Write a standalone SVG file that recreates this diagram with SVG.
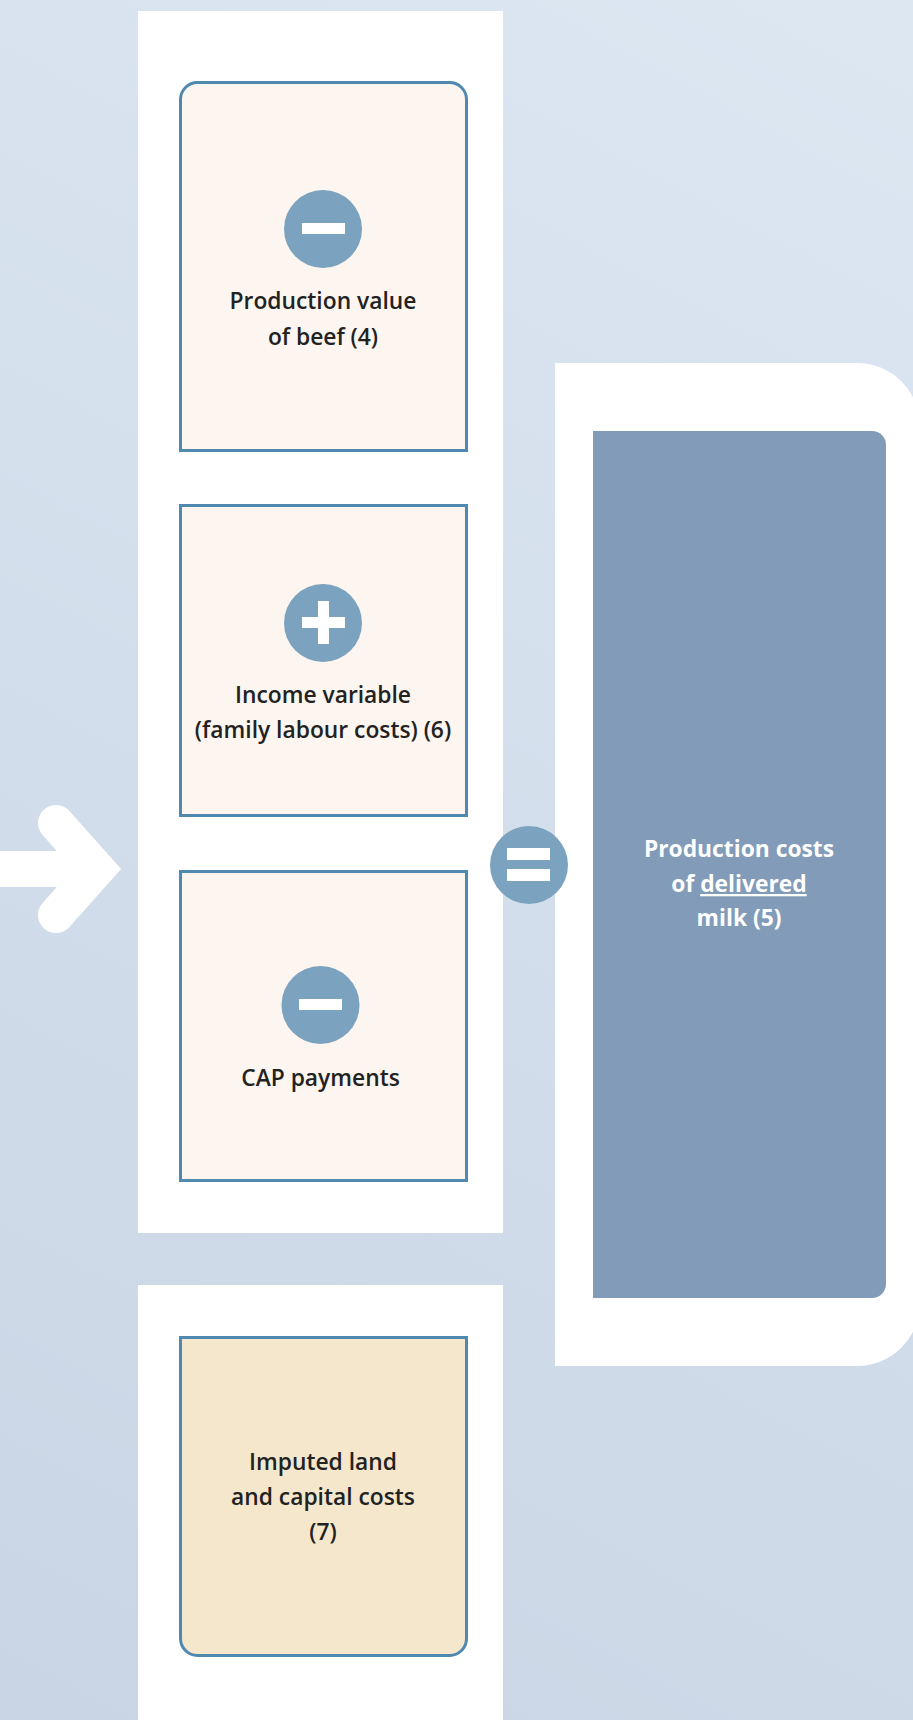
<svg xmlns="http://www.w3.org/2000/svg" width="913" height="1720" viewBox="0 0 913 1720">
  <defs>
    <linearGradient id="bg" x1="913" y1="0" x2="0" y2="1720" gradientUnits="userSpaceOnUse">
      <stop offset="0" stop-color="#dce7f2"/>
      <stop offset="1" stop-color="#c9d5e4"/>
    </linearGradient>
  </defs>
  <style>
    .box { fill: #fdf5ef; stroke: #5089b0; stroke-width: 3; }
    .box4 { fill: #f5e7cc; stroke: #5089b0; stroke-width: 3; }
    .sign { fill: #7ba2bf; }
    .bar { fill: #ffffff; }
    .lbl { font-family: "Open Sans", "Liberation Sans", sans-serif; font-weight: 600; font-size: 22.8px; fill: #222222; text-anchor: middle; }
    .lblw { font-family: "Open Sans", "Liberation Sans", sans-serif; font-weight: 700; font-size: 22.8px; fill: #ffffff; text-anchor: middle; }
  </style>

  <rect x="0" y="0" width="913" height="1720" fill="url(#bg)"/>

  <!-- white backing panels -->
  <rect x="138" y="11" width="365" height="1222" fill="#ffffff"/>
  <rect x="138" y="1285" width="365" height="435" fill="#ffffff"/>
  <path d="M555,363 H857 A63,63 0 0 1 920,426 V1303 A63,63 0 0 1 857,1366 H555 Z" fill="#ffffff"/>

  <g id="connectors">
    <rect x="0" y="851" width="95" height="36" fill="#ffffff"/>
    <path d="M56,823 L97,869 L56,915" fill="none" stroke="#ffffff" stroke-width="36" stroke-linecap="round" stroke-linejoin="miter" stroke-miterlimit="10"/>
  </g>

  <g id="node-beef">
    <path class="box" d="M180.5,450.5 V99.5 A17,17 0 0 1 197.5,82.5 H449.5 A17,17 0 0 1 466.5,99.5 V450.5 Z"/>
    <circle class="sign" cx="323" cy="229" r="39"/>
    <rect class="bar" x="302" y="223" width="43" height="11"/>
    <text class="lbl" x="323" y="309">Production value</text>
    <text class="lbl" x="323" y="345">of beef (4)</text>
  </g>

  <g id="node-income">
    <rect class="box" x="180.5" y="505.5" width="286" height="310"/>
    <circle class="sign" cx="323" cy="623" r="39"/>
    <rect class="bar" x="302" y="617" width="43" height="11"/>
    <rect class="bar" x="318" y="601" width="11" height="43"/>
    <text class="lbl" x="323" y="703">Income variable</text>
    <text class="lbl" x="323" y="738">(family labour costs) (6)</text>
  </g>

  <g id="node-cap">
    <rect class="box" x="180.5" y="871.5" width="286" height="309"/>
    <circle class="sign" cx="320.5" cy="1005" r="39"/>
    <rect class="bar" x="299" y="999" width="43" height="11"/>
    <text class="lbl" x="320.5" y="1086">CAP payments</text>
  </g>

  <g id="node-equals">
    <circle class="sign" cx="529" cy="865" r="39"/>
    <rect class="bar" x="507" y="848" width="43" height="12"/>
    <rect class="bar" x="507" y="869" width="43" height="12"/>
  </g>

  <g id="node-result">
    <path d="M593,431 H872 A14,14 0 0 1 886,445 V1284 A14,14 0 0 1 872,1298 H593 Z" fill="#819bb9"/>
    <text class="lblw" x="739" y="857">Production costs</text>
    <text class="lblw" x="739" y="892">of <tspan text-decoration="underline">delivered</tspan></text>
    <text class="lblw" x="739" y="926">milk (5)</text>
  </g>

  <g id="node-imputed">
    <path class="box4" d="M180.5,1337.5 H466.5 V1638.5 A17,17 0 0 1 449.5,1655.5 H197.5 A17,17 0 0 1 180.5,1638.5 Z"/>
    <text class="lbl" x="323" y="1470">Imputed land</text>
    <text class="lbl" x="323" y="1505">and capital costs</text>
    <text class="lbl" x="323" y="1540">(7)</text>
  </g>
</svg>
